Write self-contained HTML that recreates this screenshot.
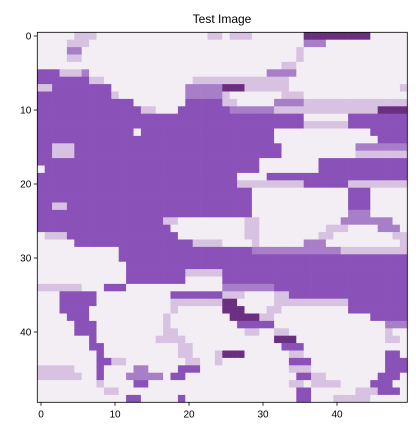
<!DOCTYPE html>
<html><head><meta charset="utf-8"><style>
html,body{margin:0;padding:0;background:#fff;width:416px;height:435px;overflow:hidden}
svg text{font-family:"Liberation Sans","DejaVu Sans",sans-serif;fill:#000}
</style></head><body>
<svg id="chart" width="416" height="435" viewBox="0 0 416 435" xmlns="http://www.w3.org/2000/svg">
<text x="222" y="23" font-size="12" text-anchor="middle">Test Image</text>
<g id="cells"></g>
<g id="axes"></g>
</svg>
<script>
const pixelRows = [
"5. 3- 15. 2- 1. 3- 7. 9D 5.",
"4. 3- 29. 3o 11.",
"4. 2o 29. 1- 14.",
"4. 2- 29. 1- 14.",
"33. 2- 15.",
"3X 3- 1o 24. 4o 15.",
"7X 2- 12. 4- 9- 16.",
"2- 8X 10. 5o 3D 6- 15. 1-",
"10X 1- 9. 5o 1- 7. 3- 14.",
"13X 7. 5X 2- 5. 4o 6- 8-",
"14X 2- 3. 7X 6o 4- 10- 4D",
"36X 6. 8X",
"36X 6- 8X",
"13X 1. 18X 13. 5X",
"32X 14. 4X",
"2X 3- 28X 10. 7o",
"2X 3- 28X 10. 7-",
"30X 8. 12X",
"1. 29X 8. 12X",
"27X 4. 19X",
"27X 9- 6X 8-",
"29X 13. 3X 5.",
"29X 13. 3X 5.",
"2X 2- 25X 13. 3X 5.",
"29X 13. 3o 5.",
"17X 2- 6. 3. 2- 11. 7o 2.",
"18X 10. 2- 9. 3- 4. 3o 1.",
"1. 3- 15X 9. 2- 8. 2- 8. 2-",
"5. 16X 4- 4. 1- 6. 3o 10. 1-",
"11. 18X 12o 9-",
"11. 39X",
"12. 38X",
"12. 8X 5- 25X",
"12. 8X 5. 25X",
"6- 3. 3X 13. 7o 18X",
"3. 5X 10. 7X 3- 4. 2- 16X",
"3. 5X 10. 7- 2D 5. 10- 8X",
"3. 4X 11. 1- 6. 3D 3. 2- 9. 8X",
"4. 3X 10. 1- 8. 4D 2- 13. 5X",
"5. 3X 9. 1- 9. 5X 15. 3o",
"5. 3X 9. 2- 9. 2- 2. 2- 13. 1- 2.",
"7. 1X 8. 4- 12. 3D 12. 2- 1.",
"7. 2X 10. 2- 12. 3X 14.",
"8. 1X 10. 2- 3. 1- 3D 6. 2- 11. 2X 1.",
"8. 2X 2- 8. 2- 2. 1- 9. 3X 10. 3X",
"5- 3. 1X 4. 2o 4. 3X 12. 3- 10. 3X",
"6- 2. 1X 3. 5o 1. 2X 15. 2X 2- 7. 3X 1.",
"8. 1- 4. 2X 19. 2- 1. 4- 4. 3X 2.",
"9. 2- 24. 2X 6. 3- 3X 1.",
"12. 2X 5. 1X 15. 2X 3. 5- 5."
];
const levelKeys = [".", "-", "o", "X", "D"];
const levelColors = ["#f2eef3", "#d8c2e1", "#a87ec9", "#8a52b8", "#6b2f80"];
const xTicks = [0, 10, 20, 30, 40];
const yTicks = [0, 10, 20, 30, 40];

const NS = "http://www.w3.org/2000/svg";
const N = 50, L = 37.3, T = 32.3, S = 7.4;
const xs = v => L + (v + 0.5) * S;
const ys = v => T + (v + 0.5) * S;
function expand(r){
  let out = [];
  r.trim().split(/\s+/).forEach(t => { const n = parseInt(t); const c = t.slice(String(n).length); for (let i=0;i<n;i++) out.push(c); });
  while (out.length < N) out.push(".");
  return out.slice(0, N);
}
const cells = document.getElementById("cells");
pixelRows.forEach((r, y) => {
  expand(r).forEach((c, x) => {
    const rect = document.createElementNS(NS, "rect");
    rect.setAttribute("x", (xs(x) - S/2).toFixed(2));
    rect.setAttribute("y", (ys(y) - S/2).toFixed(2));
    rect.setAttribute("width", (S + 0.3).toFixed(2));
    rect.setAttribute("height", (S + 0.3).toFixed(2));
    rect.setAttribute("fill", levelColors[Math.max(0, levelKeys.indexOf(c))]);
    
    
    cells.appendChild(rect);
  });
});
const axes = document.getElementById("axes");
const frame = document.createElementNS(NS, "rect");
frame.setAttribute("x", L); frame.setAttribute("y", T);
frame.setAttribute("width", N*S); frame.setAttribute("height", N*S);
frame.setAttribute("fill", "none"); frame.setAttribute("stroke", "#000"); frame.setAttribute("stroke-width", "0.8");


axes.appendChild(frame);
xTicks.forEach(v => {
  const ln = document.createElementNS(NS, "line");
  ln.setAttribute("x1", xs(v)); ln.setAttribute("x2", xs(v));
  ln.setAttribute("y1", T + N*S); ln.setAttribute("y2", T + N*S + 3.5);
  ln.setAttribute("stroke", "#000"); ln.setAttribute("stroke-width", "0.8");
  
  
  axes.appendChild(ln);
  const tx = document.createElementNS(NS, "text");
  tx.setAttribute("x", xs(v)); tx.setAttribute("y", T + N*S + 15);
  tx.setAttribute("font-size", "10"); tx.setAttribute("text-anchor", "middle");
  tx.textContent = v;
  
  
  axes.appendChild(tx);
});
yTicks.forEach(v => {
  const ln = document.createElementNS(NS, "line");
  ln.setAttribute("x1", L - 3.5); ln.setAttribute("x2", L);
  ln.setAttribute("y1", ys(v)); ln.setAttribute("y2", ys(v));
  ln.setAttribute("stroke", "#000"); ln.setAttribute("stroke-width", "0.8");
  
  
  axes.appendChild(ln);
  const tx = document.createElementNS(NS, "text");
  tx.setAttribute("x", L - 6); tx.setAttribute("y", ys(v) + 3.5);
  tx.setAttribute("font-size", "10"); tx.setAttribute("text-anchor", "end");
  tx.textContent = v;
  
  
  axes.appendChild(tx);
});
</script>
</body></html>
